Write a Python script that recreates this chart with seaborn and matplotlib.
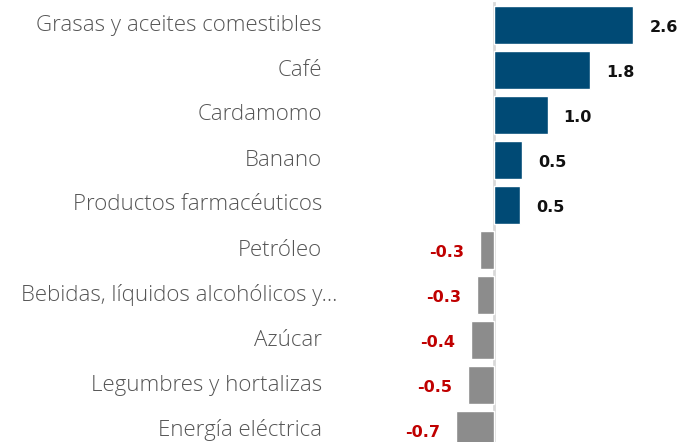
import pandas as pd
import seaborn as sns
import matplotlib.pyplot as plt
from matplotlib.ticker import FixedLocator

# datos
categorias = [
    "Grasas y aceites comestibles",
    "Café",
    "Cardamomo",
    "Banano",
    "Productos farmacéuticos",
    "Petróleo",
    "Bebidas, líquidos alcohólicos y...",
    "Azúcar",
    "Legumbres y hortalizas",
    "Energía eléctrica",
]
valores = [2.6, 1.8, 1.0, 0.52, 0.49, -0.26, -0.32, -0.43, -0.49, -0.71]
etiquetas = ["2.6", "1.8", "1.0", "0.5", "0.5", "-0.3", "-0.3", "-0.4", "-0.5", "-0.7"]

df = pd.DataFrame({"categoria": categorias, "valor": valores})
df["signo"] = ["pos" if v >= 0 else "neg" for v in valores]

sns.set_style("white")
plt.rcParams["font.family"] = ["Open Sans", "DejaVu Sans"]

fig = plt.figure(figsize=(6.87, 4.42), dpi=100)
# zona del grafico: cero en x=494 px, bandas de 45 px
ax = fig.add_axes([330 / 687, -10.5 / 442, 357 / 687, 450 / 442])

sns.barplot(data=df, x="valor", y="categoria", hue="signo",
            palette={"pos": "#004a75", "neg": "#8c8c8c"}, saturation=1,
            dodge=False, legend=False, width=0.85, orient="h", ax=ax)

px = 53.6  # pixeles por unidad
ax.set_xlim((330 - 494) / px, (687 - 494) / px)
ax.set_ylim(9.5, -0.5)

# eje en cero con marcas entre categorias
for s in ["top", "right", "bottom"]:
    ax.spines[s].set_visible(False)
ax.spines["left"].set_position(("data", 0))
ax.spines["left"].set_color("#d9d9d9")
ax.spines["left"].set_linewidth(2)
ax.spines["left"].set_zorder(0)
ax.set_yticks(range(len(categorias)))
ax.set_yticklabels([])
ax.tick_params(axis="y", which="major", length=0)
ax.yaxis.set_minor_locator(FixedLocator([i - 0.5 for i in range(len(categorias) + 1)]))
ax.tick_params(axis="y", which="minor", length=5, width=2, color="#d9d9d9", direction="out")
ax.set_xticks([])
ax.set_xlabel("")
ax.set_ylabel("")

# etiquetas de categoria
for i, cat in enumerate(categorias):
    xpos = (337 - 494) / px if cat.endswith("...") else (322 - 494) / px
    ax.text(xpos, i, cat, ha="right", va="center", fontsize=16,
            color="#555555", fontweight="light", clip_on=False)

# etiquetas de valor
for i, (v, t) in enumerate(zip(valores, etiquetas)):
    if v >= 0:
        ax.text(v + 16 / px, i + 0.05, t, ha="left", va="center", fontsize=11.5,
                fontweight="bold", color="#111111", family="DejaVu Sans")
    else:
        ax.text(v - 16 / px, i + 0.05, t, ha="right", va="center", fontsize=11.5,
                fontweight="bold", color="#c00000", family="DejaVu Sans")

fig.savefig("out.png", dpi=100)
